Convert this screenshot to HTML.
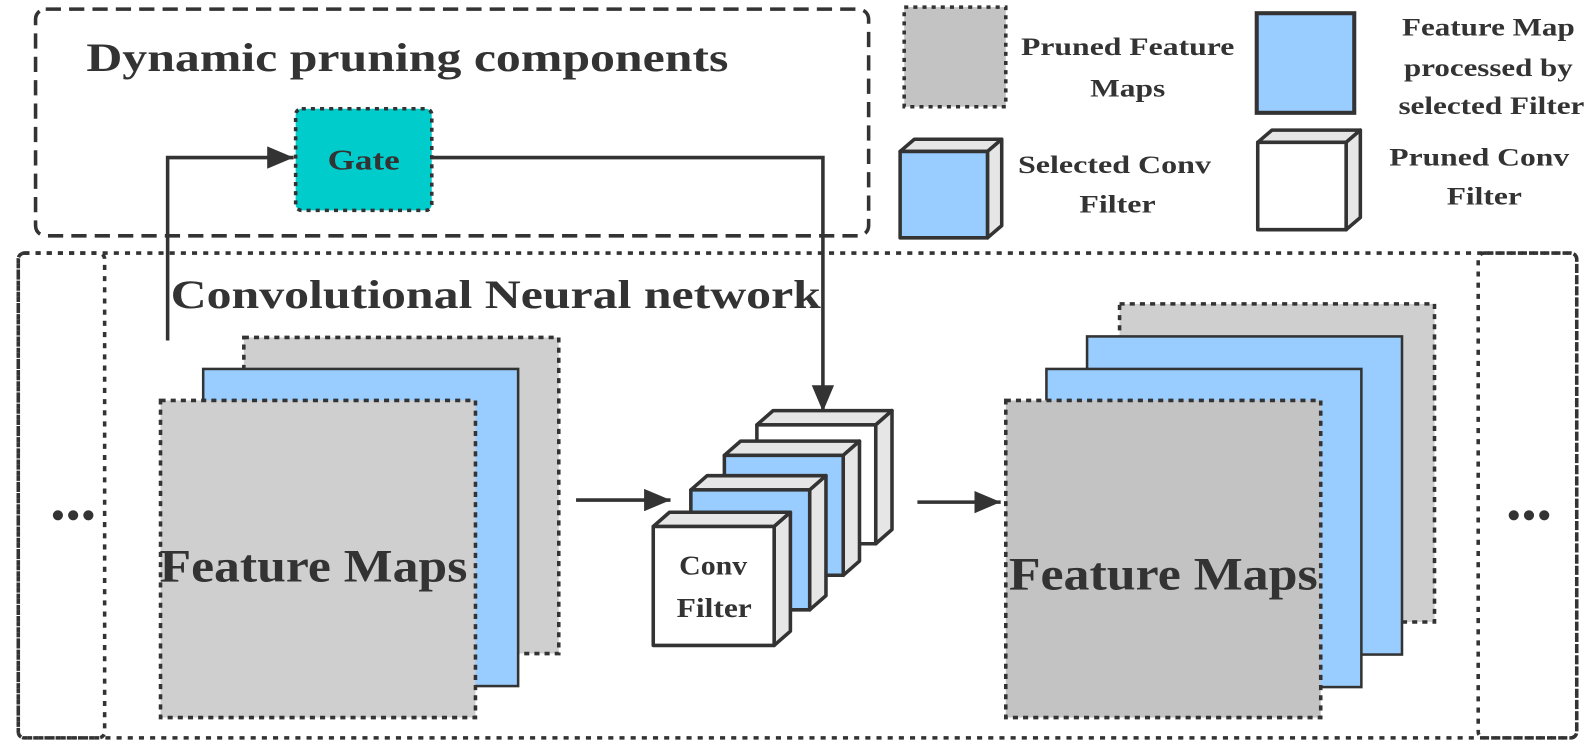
<!DOCTYPE html>
<html><head><meta charset="utf-8"><style>
html,body{margin:0;padding:0;background:#fff;}
svg{display:block;}
text{font-family:"Liberation Serif","Times New Roman",serif;font-weight:700;fill:#333;}
</style></head><body>
<svg width="1593" height="744" viewBox="0 0 1568 732" preserveAspectRatio="none" xmlns="http://www.w3.org/2000/svg">
<defs>
<marker id="ah2" markerWidth="26" markerHeight="22" refX="26" refY="11" orient="auto" markerUnits="userSpaceOnUse">
<path d="M0,0 L26,11 L0,22 z" fill="#333"/></marker>
</defs>

<rect x="35" y="9" width="820" height="223" rx="10" fill="none" stroke="#333" stroke-width="3.5" stroke-dasharray="15,8"/>
<text x="85" y="70" font-size="40" textLength="632" lengthAdjust="spacingAndGlyphs">Dynamic pruning components</text>

<rect x="18" y="249" width="1534" height="477" rx="6" fill="none" stroke="#333" stroke-width="3.5" stroke-dasharray="5,6"/>
<rect x="18" y="249" width="85" height="477" rx="6" fill="none" stroke="#333" stroke-width="3.5" stroke-dasharray="5,6"/>
<rect x="1455" y="249" width="97" height="477" rx="6" fill="none" stroke="#333" stroke-width="3.5" stroke-dasharray="5,6"/>
<text x="168" y="303" font-size="40" textLength="640" lengthAdjust="spacingAndGlyphs">Convolutional Neural network</text>

<rect x="291" y="107" width="134" height="100" rx="6" fill="#00cccc" stroke="#333" stroke-width="3.5" stroke-dasharray="4,5"/>
<text x="358" y="167" font-size="28" text-anchor="middle" textLength="71" lengthAdjust="spacingAndGlyphs">Gate</text>

<polyline points="165,335 165,155 289,155" fill="none" stroke="#333" stroke-width="3.5" marker-end="url(#ah2)"/>
<polyline points="425,155 810,155 810,405" fill="none" stroke="#333" stroke-width="3.5" marker-end="url(#ah2)"/>

<rect x="240" y="332" width="310" height="311" fill="#cfcfcf" stroke="#333" stroke-width="3.5" stroke-dasharray="5,5"/>
<rect x="200" y="363" width="310" height="312" fill="#99ccff" stroke="#333" stroke-width="2.5"/>
<rect x="158" y="394" width="310" height="312" fill="#cfcfcf" stroke="#333" stroke-width="3.5" stroke-dasharray="5,5"/>
<text x="157" y="572" font-size="46" textLength="303" lengthAdjust="spacingAndGlyphs">Feature Maps</text>

<line x1="567" y1="492" x2="660" y2="492" stroke="#333" stroke-width="3.5" marker-end="url(#ah2)"/>

<g stroke="#333" stroke-width="3.5" stroke-linejoin="round">
<polygon points="745,418 761,404 878,404 862,418" fill="#e6e6e6"/>
<polygon points="862,418 878,404 878,521 862,535" fill="#e6e6e6"/>
<rect x="745" y="418" width="117" height="117" fill="#fff"/>
<polygon points="713,448 729,434 846,434 830,448" fill="#e6e6e6"/>
<polygon points="830,448 846,434 846,552 830,566" fill="#e6e6e6"/>
<rect x="713" y="448" width="117" height="118" fill="#99ccff"/>
<polygon points="680,482 696,468 813,468 797,482" fill="#e6e6e6"/>
<polygon points="797,482 813,468 813,586 797,600" fill="#e6e6e6"/>
<rect x="680" y="482" width="117" height="118" fill="#99ccff"/>
<polygon points="643,518 659,504 778,504 762,518" fill="#e6e6e6"/>
<polygon points="762,518 778,504 778,621 762,635" fill="#e6e6e6"/>
<rect x="643" y="518" width="119" height="117" fill="#fff"/>
</g>
<text x="702" y="565" font-size="27" text-anchor="middle" textLength="67" lengthAdjust="spacingAndGlyphs">Conv</text>
<text x="703" y="607" font-size="27" text-anchor="middle" textLength="74" lengthAdjust="spacingAndGlyphs">Filter</text>

<line x1="903" y1="494" x2="985" y2="494" stroke="#333" stroke-width="3.5" marker-end="url(#ah2)"/>

<rect x="1102" y="299" width="310" height="313" fill="#cfcfcf" stroke="#333" stroke-width="3.5" stroke-dasharray="5,5"/>
<rect x="1070" y="331" width="310" height="313" fill="#99ccff" stroke="#333" stroke-width="2.5"/>
<rect x="1030" y="363" width="310" height="313" fill="#99ccff" stroke="#333" stroke-width="2.5"/>
<rect x="990" y="394" width="310" height="312" fill="#c3c3c3" stroke="#333" stroke-width="3.5" stroke-dasharray="5,5"/>
<text x="993" y="580" font-size="46" textLength="304" lengthAdjust="spacingAndGlyphs">Feature Maps</text>

<g fill="#333">
<circle cx="57" cy="507" r="5"/><circle cx="72" cy="507" r="5"/><circle cx="87" cy="507" r="5"/>
<circle cx="1490" cy="507" r="5"/><circle cx="1505" cy="507" r="5"/><circle cx="1520" cy="507" r="5"/>
</g>

<rect x="890" y="7" width="100" height="98" fill="#c3c3c3" stroke="#333" stroke-width="3.5" stroke-dasharray="4,5"/>
<text x="1110" y="54" font-size="25" text-anchor="middle" textLength="210" lengthAdjust="spacingAndGlyphs">Pruned Feature</text>
<text x="1110" y="95" font-size="25" text-anchor="middle" textLength="74" lengthAdjust="spacingAndGlyphs">Maps</text>

<rect x="1237" y="13" width="96" height="98" fill="#99ccff" stroke="#333" stroke-width="4"/>
<text x="1465" y="35" font-size="25" text-anchor="middle" textLength="170" lengthAdjust="spacingAndGlyphs">Feature Map</text>
<text x="1465" y="75" font-size="25" text-anchor="middle" textLength="166" lengthAdjust="spacingAndGlyphs">processed by</text>
<text x="1468" y="112" font-size="25" text-anchor="middle" textLength="183" lengthAdjust="spacingAndGlyphs">selected Filter</text>

<g stroke="#333" stroke-width="3.5" stroke-linejoin="round">
<polygon points="886,149 900,137 986,137 972,149" fill="#e6e6e6"/>
<polygon points="972,149 986,137 986,222 972,234" fill="#e6e6e6"/>
<rect x="886" y="149" width="86" height="85" fill="#99ccff"/>
<polygon points="1238,140 1252,128 1339,128 1325,140" fill="#e6e6e6"/>
<polygon points="1325,140 1339,128 1339,214 1325,226" fill="#e6e6e6"/>
<rect x="1238" y="140" width="87" height="86" fill="#fff"/>
</g>
<text x="1097" y="170" font-size="25" text-anchor="middle" textLength="190" lengthAdjust="spacingAndGlyphs">Selected Conv</text>
<text x="1100" y="209" font-size="25" text-anchor="middle" textLength="75" lengthAdjust="spacingAndGlyphs">Filter</text>
<text x="1456" y="163" font-size="25" text-anchor="middle" textLength="177" lengthAdjust="spacingAndGlyphs">Pruned Conv</text>
<text x="1461" y="201" font-size="25" text-anchor="middle" textLength="74" lengthAdjust="spacingAndGlyphs">Filter</text>
</svg>
</body></html>
